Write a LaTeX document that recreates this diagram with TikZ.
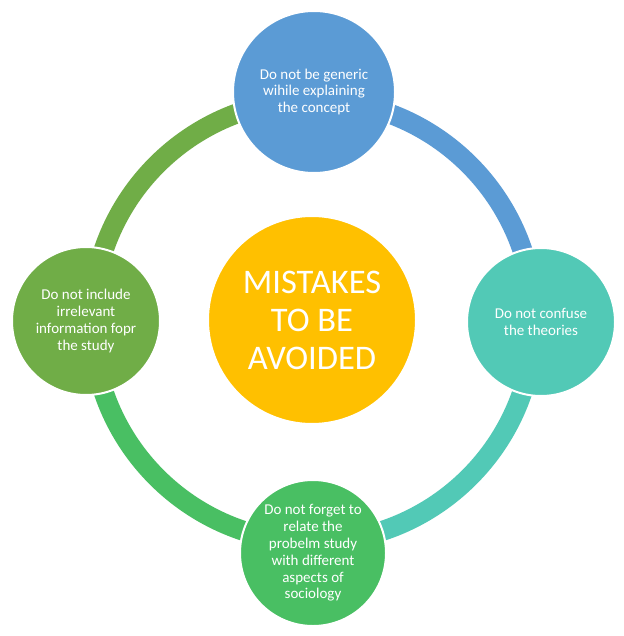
\documentclass[tikz,border=0pt]{standalone}
\usepackage{fontspec}
\setmainfont{Carlito}
\definecolor{cblue}{HTML}{5B9BD5}
\definecolor{cteal}{HTML}{52C9B6}
\definecolor{cgreen}{HTML}{49BF63}
\definecolor{colive}{HTML}{70AD47}
\definecolor{cyellow}{HTML}{FFC000}
\begin{document}
\begin{tikzpicture}[x=1pt,y=1pt,
  sat/.style={circle, draw=white, line width=2pt, inner sep=0pt, text=white, align=center,
    font=\fontsize{15}{16.8}\selectfont},
  hub/.style={circle, draw=white, line width=2pt, inner sep=0pt, text=white, align=center,
    font=\fontsize{34.5}{38}\selectfont},
  ringarc/.style={line width=20pt}]
\useasboundingbox[fill=white] (0,0) rectangle (623,-636);
\coordinate (o) at (313,-321);
\draw[ringarc, cblue]  (o) ++(90:221) arc[start angle=90, end angle=0, radius=221];
\draw[ringarc, cteal]  (o) ++(0:221) arc[start angle=0, end angle=-90, radius=221];
\draw[ringarc, cgreen] (o) ++(-90:221) arc[start angle=-90, end angle=-180, radius=221];
\draw[ringarc, colive] (o) ++(180:221) arc[start angle=180, end angle=90, radius=221];
\node[hub, fill=cyellow, minimum size=208pt] (hub) at (312,-320) {MISTAKES\\TO BE\\AVOIDED};
\node[sat, fill=cblue, minimum size=162pt] (top) at (314,-92) {Do not be generic\\wihile explaining\\the concept};
\node[sat, fill=cteal, minimum size=148pt] (right) at (541,-322) {Do not confuse\\the theories};
\node[sat, fill=cgreen, minimum size=146pt] (bottom) at (313,-553) {Do not forget to\\relate the\\probelm study\\with different\\aspects of\\sociology};
\node[sat, fill=colive, minimum size=148pt] (left) at (86,-321) {Do not include\\irrelevant\\information fopr\\the study};
\end{tikzpicture}
\end{document}
